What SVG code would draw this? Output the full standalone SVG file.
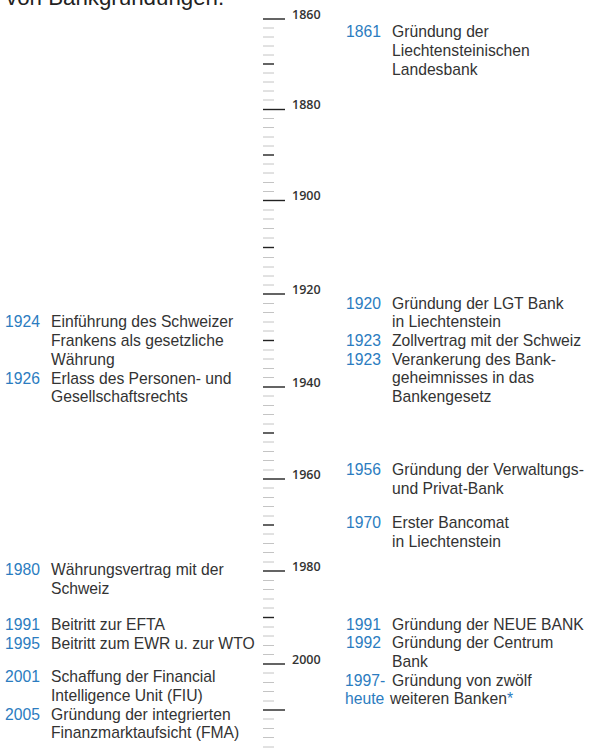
<svg xmlns="http://www.w3.org/2000/svg" width="589" height="756" viewBox="0 0 589 756">
<style>
text{font-family:"Liberation Sans",Arial,sans-serif;font-size:15.7px;fill:#333}
.y{fill:#2b7cc0}
.t{font-family:"Open Sans","DejaVu Sans",sans-serif;font-size:12.5px;font-weight:600;fill:#333}
.mi{stroke:#c4c4c4;stroke-width:1}
.md{stroke:#222;stroke-width:1.4}
.mj{stroke:#222;stroke-width:1.4}
.title{font-size:22.3px;fill:#222}
</style>
<rect width="589" height="756" fill="#fff"/>
<text class="title" x="6" y="5">von Bankgründungen.</text>
<g id="axis">
<g class="mi">
<line x1="263" x2="274" y1="28" y2="28"/><line x1="263" x2="274" y1="37" y2="37"/><line x1="263" x2="274" y1="46" y2="46"/><line x1="263" x2="274" y1="55" y2="55"/>
<line x1="263" x2="274" y1="73" y2="73"/><line x1="263" x2="274" y1="82" y2="82"/><line x1="263" x2="274" y1="91" y2="91"/><line x1="263" x2="274" y1="100" y2="100"/>
<line x1="263" x2="274" y1="118.5" y2="118.5"/><line x1="263" x2="274" y1="127.5" y2="127.5"/><line x1="263" x2="274" y1="137" y2="137"/><line x1="263" x2="274" y1="146" y2="146"/>
<line x1="263" x2="274" y1="164" y2="164"/><line x1="263" x2="274" y1="173" y2="173"/><line x1="263" x2="274" y1="182.5" y2="182.5"/><line x1="263" x2="274" y1="191.5" y2="191.5"/>
<line x1="263" x2="274" y1="210" y2="210"/><line x1="263" x2="274" y1="219" y2="219"/><line x1="263" x2="274" y1="228.5" y2="228.5"/><line x1="263" x2="274" y1="238" y2="238"/>
<line x1="263" x2="274" y1="257.5" y2="257.5"/><line x1="263" x2="274" y1="267" y2="267"/><line x1="263" x2="274" y1="276" y2="276"/><line x1="263" x2="274" y1="285" y2="285"/>
<line x1="263" x2="274" y1="303.5" y2="303.5"/><line x1="263" x2="274" y1="312.5" y2="312.5"/><line x1="263" x2="274" y1="322" y2="322"/><line x1="263" x2="274" y1="331" y2="331"/>
<line x1="263" x2="274" y1="350" y2="350"/><line x1="263" x2="274" y1="359" y2="359"/><line x1="263" x2="274" y1="368.5" y2="368.5"/><line x1="263" x2="274" y1="377.5" y2="377.5"/>
<line x1="263" x2="274" y1="396" y2="396"/><line x1="263" x2="274" y1="405.5" y2="405.5"/><line x1="263" x2="274" y1="414.5" y2="414.5"/><line x1="263" x2="274" y1="424" y2="424"/>
<line x1="263" x2="274" y1="442" y2="442"/><line x1="263" x2="274" y1="451.5" y2="451.5"/><line x1="263" x2="274" y1="460.5" y2="460.5"/><line x1="263" x2="274" y1="470" y2="470"/>
<line x1="263" x2="274" y1="488" y2="488"/><line x1="263" x2="274" y1="497.5" y2="497.5"/><line x1="263" x2="274" y1="506.5" y2="506.5"/><line x1="263" x2="274" y1="516" y2="516"/>
<line x1="263" x2="274" y1="534" y2="534"/><line x1="263" x2="274" y1="543.5" y2="543.5"/><line x1="263" x2="274" y1="552.5" y2="552.5"/><line x1="263" x2="274" y1="562" y2="562"/>
<line x1="263" x2="274" y1="580.5" y2="580.5"/><line x1="263" x2="274" y1="589.5" y2="589.5"/><line x1="263" x2="274" y1="599" y2="599"/><line x1="263" x2="274" y1="608" y2="608"/>
<line x1="263" x2="274" y1="627" y2="627"/><line x1="263" x2="274" y1="636" y2="636"/><line x1="263" x2="274" y1="645.5" y2="645.5"/><line x1="263" x2="274" y1="654.5" y2="654.5"/>
<line x1="263" x2="274" y1="673" y2="673"/><line x1="263" x2="274" y1="682.5" y2="682.5"/><line x1="263" x2="274" y1="691.5" y2="691.5"/><line x1="263" x2="274" y1="701" y2="701"/>
<line x1="263" x2="274" y1="719" y2="719"/><line x1="263" x2="274" y1="728.5" y2="728.5"/><line x1="263" x2="274" y1="737.5" y2="737.5"/><line x1="263" x2="274" y1="747" y2="747"/>
</g>
<g class="md">
<line x1="263" x2="274" y1="64" y2="64"/><line x1="263" x2="274" y1="155" y2="155"/><line x1="263" x2="274" y1="247.5" y2="247.5"/><line x1="263" x2="274" y1="340.5" y2="340.5"/>
<line x1="263" x2="274" y1="433" y2="433"/><line x1="263" x2="274" y1="525" y2="525"/><line x1="263" x2="274" y1="617.5" y2="617.5"/>
</g>
<g class="mj">
<line x1="263" x2="285" y1="19" y2="19"/><line x1="263" x2="285" y1="109.5" y2="109.5"/><line x1="263" x2="285" y1="200.5" y2="200.5"/><line x1="263" x2="285" y1="294" y2="294"/>
<line x1="263" x2="285" y1="387" y2="387"/><line x1="263" x2="285" y1="479" y2="479"/><line x1="263" x2="285" y1="571" y2="571"/><line x1="263" x2="285" y1="664" y2="664"/>
<line x1="263" x2="285" y1="710" y2="710"/>
</g>
<text class="t" x="292" y="18.5">1860</text>
<text class="t" x="292" y="109">1880</text>
<text class="t" x="292" y="200">1900</text>
<text class="t" x="292" y="293.5">1920</text>
<text class="t" x="292" y="386.5">1940</text>
<text class="t" x="292" y="478.5">1960</text>
<text class="t" x="292" y="570.5">1980</text>
<text class="t" x="292" y="663.5">2000</text>
</g>
<g id="e1861">
<text class="y" x="346" y="37">1861</text>
<text x="392" y="37">Gründung der</text>
<text x="392" y="56">Liechtensteinischen</text>
<text x="392" y="75">Landesbank</text>
</g>
<g id="e1920">
<text class="y" x="346" y="308.5">1920</text>
<text x="392" y="308.5">Gründung der LGT Bank</text>
<text x="392" y="327.3">in Liechtenstein</text>
</g>
<g id="e1923a">
<text class="y" x="346" y="346">1923</text>
<text x="392" y="346">Zollvertrag mit der Schweiz</text>
</g>
<g id="e1923b">
<text class="y" x="346" y="364.7">1923</text>
<text x="392" y="364.7">Verankerung des Bank-</text>
<text x="392" y="383.4">geheimnisses in das</text>
<text x="392" y="402">Bankengesetz</text>
</g>
<g id="e1956">
<text class="y" x="346" y="475">1956</text>
<text x="392" y="475">Gründung der Verwaltungs-</text>
<text x="392" y="493.7">und Privat-Bank</text>
</g>
<g id="e1970">
<text class="y" x="346" y="528">1970</text>
<text x="392" y="528">Erster Bancomat</text>
<text x="392" y="546.7">in Liechtenstein</text>
</g>
<g id="e1991b">
<text class="y" x="346" y="629.5">1991</text>
<text x="392" y="629.5">Gründung der NEUE BANK</text>
</g>
<g id="e1992">
<text class="y" x="346" y="648">1992</text>
<text x="392" y="648">Gründung der Centrum</text>
<text x="392" y="666.7">Bank</text>
</g>
<g id="e1997">
<text class="y" x="345" y="685.5">1997-</text>
<text x="392" y="685.5">Gründung von zwölf</text>
<text class="y" x="345" y="704.3">heute</text>
<text x="390" y="704.3">weiteren Banken<tspan class="y">*</tspan></text>
</g>
<g id="e1924">
<text class="y" x="5" y="327.3">1924</text>
<text x="51" y="327.3">Einführung des Schweizer</text>
<text x="51" y="346">Frankens als gesetzliche</text>
<text x="51" y="364.7">Währung</text>
</g>
<g id="e1926">
<text class="y" x="5" y="383.7">1926</text>
<text x="51" y="383.7">Erlass des Personen- und</text>
<text x="51" y="402.4">Gesellschaftsrechts</text>
</g>
<g id="e1980">
<text class="y" x="5" y="575">1980</text>
<text x="51" y="575">Währungsvertrag mit der</text>
<text x="51" y="593.7">Schweiz</text>
</g>
<g id="e1991a">
<text class="y" x="5" y="630">1991</text>
<text x="51" y="630">Beitritt zur EFTA</text>
</g>
<g id="e1995">
<text class="y" x="5" y="648.5">1995</text>
<text x="51" y="648.5">Beitritt zum EWR u. zur WTO</text>
</g>
<g id="e2001">
<text class="y" x="5" y="682.3">2001</text>
<text x="51" y="682.3">Schaffung der Financial</text>
<text x="51" y="701">Intelligence Unit (FIU)</text>
</g>
<g id="e2005">
<text class="y" x="5" y="719.5">2005</text>
<text x="51" y="719.5">Gründung der integrierten</text>
<text x="51" y="738">Finanzmarktaufsicht (FMA)</text>
</g>
</svg>
